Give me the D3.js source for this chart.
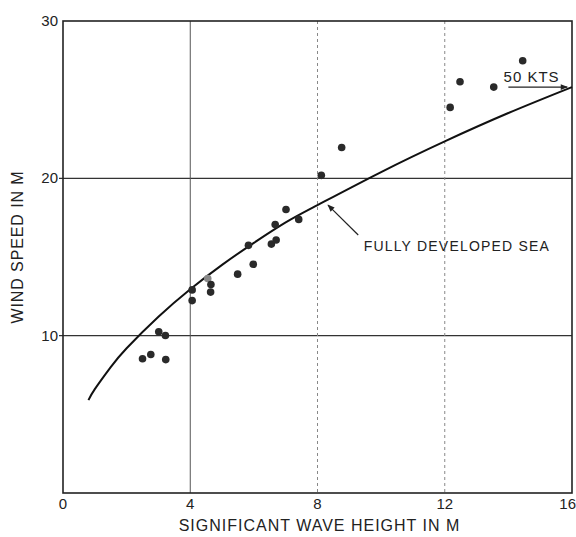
<!DOCTYPE html>
<html><head><meta charset="utf-8">
<script src="https://cdn.jsdelivr.net/npm/d3@7"></script>
<style>body{margin:0;background:#fff}svg{display:block}text{font-family:"Liberation Sans",Arial,sans-serif;fill:#222}</style>
</head><body><svg id="c" width="576" height="537"></svg>
<script>
// Observed data (significant wave height m, wind speed)
const waveHeight = [2.50,2.76,3.23,3.01,3.22,4.06,4.06,4.65,4.64,5.49,5.83,5.98,6.55,6.70,6.67,7.01,7.41,8.12,8.76,12.17,12.48,13.54,14.45];
const windSpeed  = [8.53,8.80,8.48,10.25,10.01,12.91,12.23,13.25,12.77,13.91,15.74,14.54,15.82,16.08,17.07,18.02,17.39,20.19,21.96,24.51,26.14,25.80,27.47];
const fadedH = [4.55];
const fadedU = [13.63];
// Fully developed sea curve
const curveH = [0.8,1.0,1.5,2.0,3.0,4.0,5.0,6.0,7.0,8.0,10.0,12.0,14.0,16.0];
const curveU = [5.9,6.6,8.0,9.2,11.2,12.95,14.5,15.9,17.2,18.3,20.4,22.35,24.15,25.8];
const xTicks = [0,4,8,12,16];
const yTicks = [10,20,30];
const xTitle = "SIGNIFICANT WAVE HEIGHT IN M";
const yTitle = "WIND SPEED IN M";
const curveLabel = "FULLY DEVELOPED SEA";
const ktsLabel = "50 KTS";

const svg = d3.select("#c");
const L=63,R=572,T=21,B=493;
const x = d3.scaleLinear().domain([0,16]).range([L,R]);
const y = d3.scaleLinear().domain([0,30]).range([B,T]);

// grid
svg.append("g").selectAll("line").data([10,20]).join("line")
  .attr("x1",L-4).attr("x2",R).attr("y1",d=>y(d)).attr("y2",d=>y(d))
  .attr("stroke","#333").attr("stroke-width",1.2);
svg.append("line").attr("x1",x(4)).attr("x2",x(4)).attr("y1",T).attr("y2",B)
  .attr("stroke","#555").attr("stroke-width",1);
svg.append("g").selectAll("line").data([8,12]).join("line")
  .attr("x1",d=>x(d)).attr("x2",d=>x(d)).attr("y1",T).attr("y2",B)
  .attr("stroke","#888").attr("stroke-width",1).attr("stroke-dasharray","3,3");

// frame
svg.append("rect").attr("x",L).attr("y",T).attr("width",R-L).attr("height",B-T)
  .attr("fill","none").attr("stroke","#222").attr("stroke-width",1.6);

// axes labels
svg.append("g").selectAll("text").data(xTicks).join("text")
  .attr("x",d=>d===16 ? 576 : x(d)).attr("y",B+16)
  .attr("text-anchor",d=>d===16 ? "end" : "middle")
  .attr("font-size",15).text(d=>d);
svg.append("g").selectAll("text").data(yTicks).join("text")
  .attr("x",L-5).attr("y",d=>y(d)+5).attr("text-anchor","end")
  .attr("font-size",15).text(d=>d);
svg.append("text").attr("x",(L+R)/2+2).attr("y",531).attr("text-anchor","middle")
  .attr("font-size",16).attr("letter-spacing",1).text(xTitle);
svg.append("text").attr("transform",`translate(23,${(T+B)/2-10}) rotate(-90)`)
  .attr("text-anchor","middle").attr("font-size",16).attr("letter-spacing",0.9).text(yTitle);

// curve
const line = d3.line().x((d,i)=>x(curveH[i])).y((d,i)=>y(curveU[i])).curve(d3.curveNatural);
svg.append("path").attr("d",line(curveH)).attr("fill","none").attr("stroke","#111").attr("stroke-width",2);

// points
svg.append("g").selectAll("circle").data(fadedH).join("circle")
  .attr("cx",d=>x(d)).attr("cy",(d,i)=>y(fadedU[i])).attr("r",3.8).attr("fill","#888");
svg.append("g").selectAll("circle").data(waveHeight).join("circle")
  .attr("cx",d=>x(d)).attr("cy",(d,i)=>y(windSpeed[i])).attr("r",3.8).attr("fill","#2a2a2a");

// annotations
const defs = svg.append("defs");
defs.append("marker").attr("id","ah").attr("viewBox","0 0 10 10").attr("refX",9).attr("refY",5)
  .attr("markerWidth",8).attr("markerHeight",6).attr("orient","auto")
  .append("path").attr("d","M0,1 L10,5 L0,9 Z").attr("fill","#222");
svg.append("line").attr("x1",x(9.28)).attr("y1",y(16.4)).attr("x2",x(8.33)).attr("y2",y(18.3))
  .attr("stroke","#222").attr("stroke-width",1.2).attr("marker-end","url(#ah)");
svg.append("text").attr("x",x(9.45)).attr("y",y(15.35)).attr("font-size",14)
  .attr("letter-spacing",1.2).text(curveLabel);
svg.append("text").attr("x",x(13.85)).attr("y",y(26.1)).attr("font-size",15)
  .attr("letter-spacing",1).text(ktsLabel);
svg.append("line").attr("x1",x(14.0)).attr("y1",y(25.8)).attr("x2",x(15.85)).attr("y2",y(25.8))
  .attr("stroke","#222").attr("stroke-width",1.2).attr("marker-end","url(#ah)");
</script></body></html>
